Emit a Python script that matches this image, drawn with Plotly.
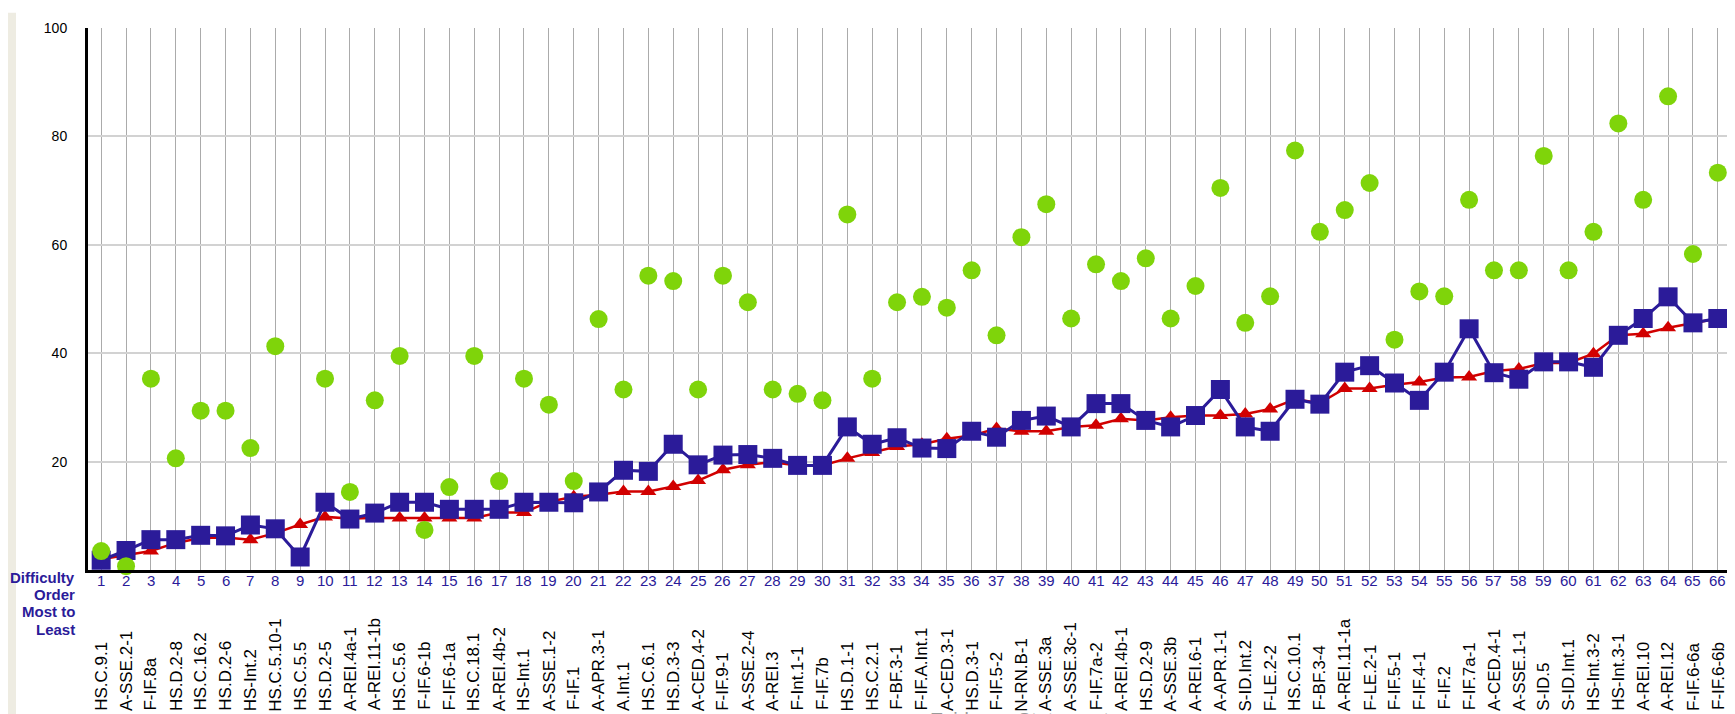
import plotly.graph_objects as go

order = list(range(1, 67))
evidence = ["HS.C.9.1", "A-SSE.2-1", "F-IF.8a", "HS.D.2-8", "HS.C.16.2", "HS.D.2-6", "HS-Int.2",
            "HS.C.5.10-1", "HS.C.5.5", "HS.D.2-5", "A-REI.4a-1", "A-REI.11-1b", "HS.C.5.6",
            "F-IF.6-1b", "F-IF.6-1a", "HS.C.18.1", "A-REI.4b-2", "HS-Int.1", "A-SSE.1-2", "F-IF.1",
            "A-APR.3-1", "A.Int.1", "HS.C.6.1", "HS.D.3-3", "A-CED.4-2", "F-IF.9-1", "A-SSE.2-4",
            "A-REI.3", "F-Int.1-1", "F-IF.7b", "HS.D.1-1", "HS.C.2.1", "F-BF.3-1", "F-IF.A.Int.1",
            "A-CED.3-1", "HS.D.3-1", "F-IF.5-2", "N-RN.B-1", "A-SSE.3a", "A-SSE.3c-1", "F-IF.7a-2",
            "A-REI.4b-1", "HS.D.2-9", "A-SSE.3b", "A-REI.6-1", "A-APR.1-1", "S-ID.Int.2",
            "F-LE.2-2", "HS.C.10.1", "F-BF.3-4", "A-REI.11-1a", "F-LE.2-1", "F-IF.5-1", "F-IF.4-1",
            "F-IF.2", "F-IF.7a-1", "A-CED.4-1", "A-SSE.1-1", "S-ID.5", "S-ID.Int.1", "HS-Int.3-2",
            "HS-Int.3-1", "A-REI.10", "A-REI.12", "F-IF.6-6a", "F-IF.6-6b"]

red_series = [2.0, 2.8, 3.5, 5.0, 5.9, 6.0, 5.6, 6.8, 8.4, 9.8,
              9.5, 9.6, 9.6, 9.6, 9.6, 9.6, 10.6, 10.6, 12.6, 13.5,
              13.9, 14.5, 14.5, 15.4, 16.5, 18.5, 19.4, 19.9, 19.3, 19.3,
              20.6, 21.7, 22.8, 23.2, 24.2, 24.8, 26.1, 25.6, 25.6, 26.4,
              26.7, 27.9, 27.6, 28.2, 28.5, 28.5, 28.8, 29.7, 31.5, 30.8,
              33.5, 33.5, 34.2, 34.7, 35.5, 35.6, 36.7, 37.1, 38.2, 38.2,
              39.9, 43.3, 43.6, 44.7, 45.5, 46.4]

blue_series = [1.8, 3.6, 5.6, 5.6, 6.4, 6.3, 8.3, 7.6, 2.4, 12.5,
               9.4, 10.5, 12.5, 12.5, 11.2, 11.2, 11.2, 12.5, 12.5, 12.4,
               14.4, 18.4, 18.2, 23.2, 19.4, 21.2, 21.3, 20.6, 19.3, 19.3,
               26.4, 23.2, 24.4, 22.5, 22.4, 25.6, 24.5, 27.6, 28.4, 26.4,
               30.7, 30.7, 27.6, 26.4, 28.5, 33.3, 26.4, 25.6, 31.5, 30.6,
               36.5, 37.7, 34.5, 31.3, 36.5, 44.5, 36.4, 35.2, 38.4, 38.4,
               37.4, 43.3, 46.4, 50.4, 45.6, 46.4]

green_series = [3.5, 0.7, 35.3, 20.6, 29.4, 29.4, 22.5, 41.3, None, 35.3,
                14.4, 31.3, 39.5, 7.4, 15.3, 39.5, 16.4, 35.3, 30.5, 16.4,
                46.3, 33.3, 54.3, 53.3, 33.3, 54.3, 49.4, 33.3, 32.5, 31.3,
                65.6, 35.3, 49.4, 50.4, 48.4, 55.3, 43.3, 61.4, 67.5, 46.4,
                56.4, 53.3, 57.5, 46.4, 52.4, 70.5, 45.6, 50.5, 77.4, 62.4,
                66.4, 71.4, 42.5, 51.4, 50.5, 68.3, 55.3, 55.3, 76.4, 55.3,
                62.4, 82.4, 68.3, 87.4, 58.3, 73.3]

y_ticks = [20, 40, 60, 80, 100]
side_label_lines = ["Difficulty", "Order", "Most to", "Least"]

FONT = "Arial, Liberation Sans, sans-serif"
BLUE = "#2b1b99"
RED = "#d10000"
GREEN = "#7fd40a"

W, H = 1735, 714
L, R, T, B = 80, 12, 15.5, 152
ph = H - T - B
pw = W - L - R

LABEL_SIZE = 17
LABEL_BOTTOM = 704
# Arial / Liberation Sans advance widths (per 1000 em) used to bottom-align rotated labels
ADV = {"H": 722, "S": 667, ".": 278, "C": 722, "A": 667, "-": 333, "E": 667, "F": 611,
       "I": 278, "R": 722, "D": 722, "P": 667, "B": 667, "N": 722, "L": 556,
       "n": 556, "t": 278, "a": 556, "b": 556, "e": 556, "c": 500}


def text_len(s, size):
    return sum(ADV.get(ch, 556) for ch in s) * size / 1000.0


def ypx(px):
    """pixel row (from top of figure) -> paper y"""
    return (H - B - px) / ph


def xpx(px):
    return (px - L) / pw


fig = go.Figure()
fig.add_trace(go.Scatter(x=order, y=red_series, mode="lines+markers",
                         line=dict(color=RED, width=2.5),
                         marker=dict(symbol="triangle-up", size=14, color=RED),
                         cliponaxis=False))
fig.add_trace(go.Scatter(x=order, y=blue_series, mode="lines+markers",
                         line=dict(color=BLUE, width=3),
                         marker=dict(symbol="square", size=19, color=BLUE),
                         cliponaxis=False))
fig.add_trace(go.Scatter(x=order, y=green_series, mode="markers",
                         marker=dict(symbol="circle", size=18, color=GREEN),
                         cliponaxis=False))

annotations = []
# order numbers under the axis
for i in order:
    annotations.append(dict(x=i, y=ypx(573), xref="x", yref="paper", text=str(i),
                            showarrow=False, xanchor="center", yanchor="middle",
                            font=dict(family=FONT, size=15, color=BLUE), borderpad=0))
# rotated evidence statement labels, all starting at the same bottom line
for i, lab in zip(order, evidence):
    cy = LABEL_BOTTOM - text_len(lab, LABEL_SIZE) / 2.0
    annotations.append(dict(x=i, y=ypx(cy), xref="x", yref="paper", text=lab,
                            textangle=-90, showarrow=False, xanchor="center",
                            yanchor="middle", font=dict(family=FONT, size=LABEL_SIZE, color="#000000"),
                            borderpad=0))

for txt, py in zip(side_label_lines, [570, 587, 604, 622]):
    annotations.append(dict(x=xpx(68), y=ypx(py), xref="paper", yref="paper",
                            text=txt, showarrow=False, xanchor="right", yanchor="middle",
                            font=dict(family=FONT, size=15, color=BLUE, weight="bold"),
                            borderpad=0))

annotations.append(dict(x=xpx(1012), y=ypx(700), xref="paper", yref="paper",
                        text="Evidence Statement", showarrow=False, xanchor="center", yanchor="top",
                        font=dict(family=FONT, size=20, color="#9a9a9a")))

shapes = [
    dict(type="rect", xref="paper", yref="paper", x0=xpx(0), x1=xpx(8),
         y0=ypx(H), y1=ypx(0), fillcolor="#eeece2", line=dict(width=0), layer="below"),
    dict(type="line", xref="paper", yref="paper", x0=1, x1=1, y0=0, y1=1,
         line=dict(color="#b0b0b0", width=1.5)),
]

fig.update_layout(
    width=W, height=H,
    margin=dict(l=L, r=R, t=T, b=B),
    paper_bgcolor="white", plot_bgcolor="white",
    showlegend=False,
    font=dict(family=FONT, color="#000000"),
    annotations=annotations,
    shapes=shapes,
)
fig.update_xaxes(range=[0.47, 66.53], tickmode="array", tickvals=order,
                 showticklabels=False,
                 showgrid=True, gridcolor="#ababab", gridwidth=1.3,
                 showline=True, linecolor="#000000", linewidth=3,
                 ticks="", zeroline=False, fixedrange=True)
fig.update_yaxes(range=[0, 100], tickmode="array", tickvals=y_ticks,
                 tickfont=dict(family=FONT, size=14, color="#000000"),
                 ticklabelstandoff=15,
                 showgrid=True, gridcolor="#d2d2d2", gridwidth=2,
                 showline=True, linecolor="#000000", linewidth=3,
                 ticks="", zeroline=False, fixedrange=True)

fig.write_html("out.html")
